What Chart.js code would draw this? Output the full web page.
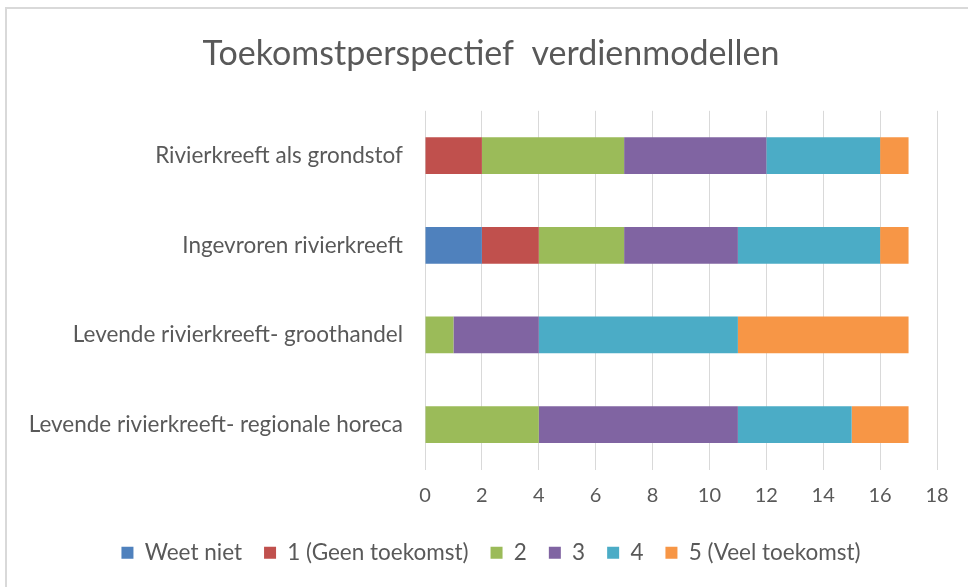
<!DOCTYPE html>
<html>
<head>
<meta charset="utf-8">
<script src="https://cdn.jsdelivr.net/npm/chart.js@4.4.1/dist/chart.umd.min.js"></script>
<style>
  html, body { margin: 0; padding: 0; background: #fff; }
  #wrap { position: relative; width: 968px; height: 587px; overflow: hidden; }
  #frame { position: absolute; left: 5px; top: 7px; width: 980px; height: 600px;
           border-top: 2px solid #d9d9d9; border-left: 2px solid #d9d9d9; box-sizing: border-box; }
  canvas { position: absolute; left: 0; top: 0; }
</style>
</head>
<body>
<div id="wrap">
  <div id="frame"></div>
  <canvas id="chart" width="968" height="587"></canvas>
</div>
<script>
// categories, top to bottom
const categories = [
    "Rivierkreeft als grondstof",
    "Ingevroren rivierkreeft",
    "Levende rivierkreeft- groothandel",
    "Levende rivierkreeft- regionale horeca"
];

// one array per answer, same order as categories
const weetNiet   = [0, 2, 0, 0];
const score1     = [2, 2, 0, 0];
const score2     = [5, 3, 1, 4];
const score3     = [5, 4, 3, 7];
const score4     = [4, 5, 7, 4];
const score5     = [1, 1, 6, 2];

const seriesNames = ["Weet niet", "1 (Geen toekomst)", "2", "3", "4", "5 (Veel toekomst)"];
const seriesColors = ["#4f81bd", "#c0504d", "#9bbb59", "#8064a2", "#4bacc6", "#f79646"];
const seriesData = [weetNiet, score1, score2, score3, score4, score5];

const xMax = 18;
const xStep = 2;

const fontName = "Lato";
const textGrey = "#595959";

const ctx = document.getElementById("chart");

new Chart(ctx, {
    type: "bar",
    data: {
        labels: categories,
        datasets: seriesData.map((vals, i) => ({
            label: seriesNames[i],
            data: vals,
            backgroundColor: seriesColors[i],
            borderWidth: 0,
            categoryPercentage: 1,
            barPercentage: 0.41
        }))
    },
    options: {
        indexAxis: "y",
        responsive: false,
        animation: false,
        devicePixelRatio: 1,
        // left pad 14 + empty right axis of 31 -> title/legend centre near 491, plot 425..937
        layout: { padding: { left: 14, right: 0, top: 0, bottom: 13 } },
        plugins: {
            title: {
                display: true,
                text: "Toekomstperspectief  verdienmodellen",
                color: textGrey,
                font: { family: fontName, size: 34, weight: "normal" },
                padding: { top: 34, bottom: 36 }
            },
            legend: {
                position: "bottom",
                labels: {
                    color: textGrey,
                    font: { family: fontName, size: 22.5 },
                    boxWidth: 12,
                    boxHeight: 12,
                    padding: 22
                }
            },
            tooltip: { enabled: false }
        },
        scales: {
            x: {
                stacked: true,
                min: 0,
                max: xMax,
                ticks: {
                    stepSize: xStep,
                    color: textGrey,
                    font: { family: fontName, size: 20 },
                    padding: 14
                },
                grid: { color: "#d9d9d9", lineWidth: 1, drawTicks: false },
                border: { display: false },
                afterFit: (scale) => { scale.height -= 2; }
            },
            y: {
                stacked: true,
                ticks: {
                    color: textGrey,
                    font: { family: fontName, size: 22.5 },
                    padding: 22
                },
                grid: { display: false, drawTicks: false },
                border: { display: false },
                afterFit: (scale) => { scale.width = 425 - 14; }
            },
            // empty spacer on the right
            yRight: {
                type: "category",
                axis: "y",
                position: "right",
                ticks: { display: false },
                grid: { display: false, drawTicks: false },
                border: { display: false },
                afterFit: (scale) => { scale.width = 31; }
            }
        }
    }
});
</script>
</body>
</html>
